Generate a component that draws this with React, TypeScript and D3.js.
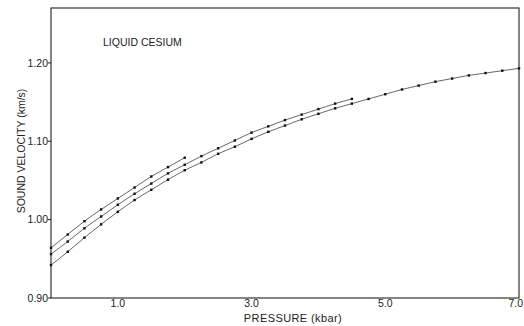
import React from "react";
import * as d3 from "d3";

const width = 524;
const height = 326;
const margin = { top: 8, right: 5, bottom: 28, left: 51 };

// pressure (kbar) for each measured point
const pressureTop = [0, 0.25, 0.5, 0.75, 1.0, 1.25, 1.5, 1.75, 2.0];
const pressureMid = [0, 0.25, 0.5, 0.75, 1.0, 1.25, 1.5, 1.75, 2.0, 2.25, 2.5, 2.75, 3.0, 3.25, 3.5, 3.75, 4.0, 4.25, 4.5];
const pressureLow = [0, 0.25, 0.5, 0.75, 1.0, 1.25, 1.5, 1.75, 2.0, 2.25, 2.5, 2.75, 3.0, 3.25, 3.5, 3.75, 4.0, 4.25, 4.5, 4.75, 5.0, 5.25, 5.5, 5.75, 6.0, 6.25, 6.5, 6.75, 7.0];

// sound velocity (km/s)
const velocityTop = [0.964, 0.981, 0.998, 1.013, 1.027, 1.041, 1.055, 1.067, 1.079];
const velocityMid = [0.956, 0.972, 0.989, 1.004, 1.019, 1.033, 1.046, 1.059, 1.07, 1.081, 1.091, 1.101, 1.111, 1.119, 1.127, 1.134, 1.141, 1.148, 1.154];
const velocityLow = [0.942, 0.959, 0.977, 0.994, 1.01, 1.025, 1.038, 1.051, 1.063, 1.073, 1.084, 1.093, 1.103, 1.112, 1.12, 1.128, 1.135, 1.142, 1.148, 1.154, 1.16, 1.166, 1.171, 1.176, 1.18, 1.184, 1.187, 1.19, 1.193];

const xTicks = [1.0, 3.0, 5.0, 7.0];
const yTicks = [0.9, 1.0, 1.1, 1.2];

const font = "'Liberation Sans', Arial, sans-serif";

const App = () => {
  const x = d3.scaleLinear().domain([0, 7]).range([margin.left, width - margin.right]);
  // top of frame sits around 1.27
  const y = d3.scaleLinear().domain([0.9, 1.27]).range([298, margin.top]);

  const series = [
    { p: pressureTop, v: velocityTop },
    { p: pressureMid, v: velocityMid },
    { p: pressureLow, v: velocityLow },
  ].map((s) => s.p.map((p, i) => [p, s.v[i]] as [number, number]));

  const line = d3
    .line<[number, number]>()
    .x((d) => x(d[0]))
    .y((d) => y(d[1]))
    .curve(d3.curveMonotoneX);

  const x0 = x(0);
  const x1 = x(7);
  const yTop = y(1.27);
  const yBot = y(0.9);

  return (
    <svg
      width={width}
      height={height}
      style={{ position: "absolute", left: 0, top: 0, background: "#fff" }}
      fontFamily={font}
    >
      <rect x={0} y={0} width={width} height={height} fill="#fff" />
      {series.map((pts, k) => (
        <g key={k}>
          <path d={line(pts) || ""} fill="none" stroke="#555" strokeWidth={0.9} />
          {pts.map((d, i) => (
            <rect key={i} x={x(d[0]) - 1.2} y={y(d[1]) - 1.2} width={2.4} height={2.4} fill="#111" />
          ))}
        </g>
      ))}

      {/* frame */}
      <rect x={x0} y={yTop} width={x1 - x0} height={yBot - yTop} fill="none" stroke="#222" strokeWidth={1.1} />

      {yTicks.map((t) => (
        <g key={t}>
          <line x1={x0 - 3} x2={x0} y1={y(t)} y2={y(t)} stroke="#222" />
          <text x={x0 - 3} y={y(t)} dy="0.35em" textAnchor="end" fontSize={10.5} fill="#222">
            {t.toFixed(2)}
          </text>
        </g>
      ))}
      {xTicks.map((t) => {
        // last label hugs the right edge, as in the original
        const last = x(t) + 8 > width;
        return (
          <text
            key={t}
            x={last ? width - 1 : x(t)}
            y={307}
            textAnchor={last ? "end" : "middle"}
            fontSize={10.5}
            fill="#222"
          >
            {t.toFixed(1)}
          </text>
        );
      })}

      <text x={293} y={322} textAnchor="middle" fontSize={11} letterSpacing={0.4} fill="#222">
        PRESSURE (kbar)
      </text>
      <text
        transform={`translate(25,151) rotate(-90)`}
        textAnchor="middle"
        fontSize={10.5}
        fill="#222"
      >
        SOUND VELOCITY (km/s)
      </text>
      <text x={103} y={46} fontSize={10.5} fill="#222">
        LIQUID CESIUM
      </text>
    </svg>
  );
};

export default App;
